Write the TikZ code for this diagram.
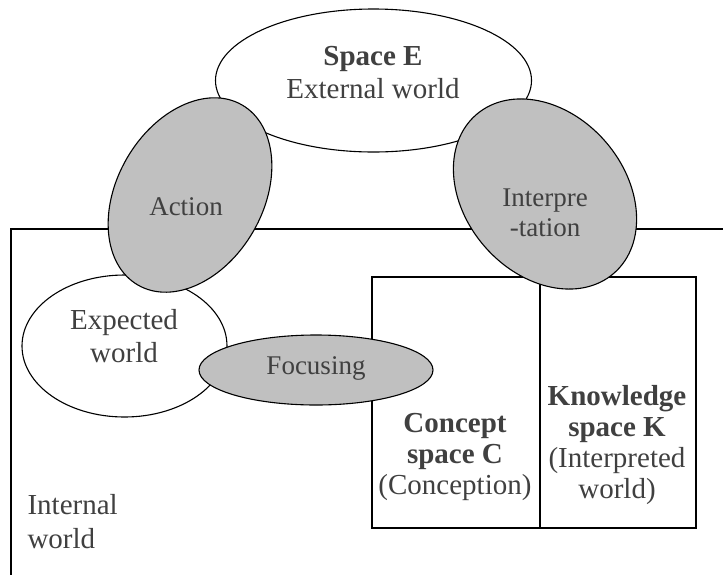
\documentclass[tikz,border=0pt]{standalone}
\usepackage{fontspec}
\setmainfont{Liberation Serif}
\usepackage{tikz}
\definecolor{ovalgray}{RGB}{192,192,192}
\definecolor{txtgray}{RGB}{64,64,64}
\tikzset{
  lbl/.style={text=txtgray,align=center,inner sep=0pt,font=\fontsize{29}{31}\selectfont},
  lblsmall/.style={lbl,font=\fontsize{27}{30}\selectfont},
  whiteoval/.style={fill=white,draw=black},
  grayoval/.style={fill=ovalgray,draw=black}
}
\begin{document}
\begin{tikzpicture}[x=1pt,y=-1pt,line width=1.1pt]
\useasboundingbox(0,0)rectangle(723,574);
\clip(0,0)rectangle(723,574);
\coordinate(E)at(373.5,80.5);\coordinate(A)at(190,195);
\coordinate(I)at(545,194);\coordinate(W)at(124.5,346);
\coordinate(F)at(316,370);
% internal world and the two spaces
\draw(11,229)rectangle(740,600);
\draw(372,277)rectangle(696,528)(540,277)--(540,528);
% ovals
\draw[whiteoval](E)ellipse[x radius=158pt,y radius=71.5pt];
\draw[whiteoval](W)ellipse[x radius=102.5pt,y radius=71pt];
\draw[grayoval,rotate around={-30:(A)}](A)ellipse[x radius=73pt,y radius=104pt];
\draw[grayoval,rotate around={41:(I)}](I)ellipse[x radius=80pt,y radius=105pt];
\draw[grayoval](F)ellipse[x radius=117pt,y radius=35pt];
% labels
\node[lbl](spaceE)at(373,73){\textbf{Space E}\\[2pt]External world};
\node[lblsmall](action)at(186,207){Action};
\node[lblsmall](interp)at(545,213){Interpre\\-tation};
\node[lbl](expected)at(124,336){Expected\\[2pt]world};
\node[lblsmall](focus)at(316,368){Focusing};
\node[lbl](concept)at(455,457){\textbf{Concept}\\\textbf{space C}\\(Conception)};
\node[lbl](knowledge)at(617,445){\textbf{Knowledge}\\\textbf{space K}\\(Interpreted\\world)};
\node[lbl,align=left,anchor=west](internal)at(27,522){Internal\\[3pt]world};
\end{tikzpicture}
\end{document}
